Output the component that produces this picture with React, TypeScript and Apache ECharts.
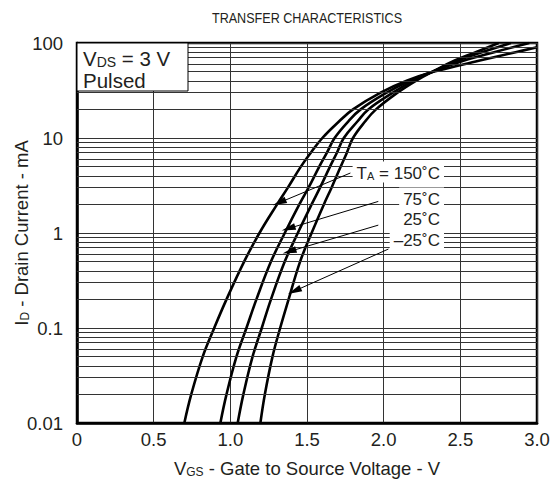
import React, { useEffect, useRef } from 'react';
import * as echarts from 'echarts';

// Temperatures (°C) of the four curves
const tempNames = ['150', '75', '25', '–25'];

// [VGS (V), ID (mA)]
const curve150 = [
  [0.70, 0.01], [0.745, 0.02], [0.82, 0.05], [0.895, 0.1], [0.975, 0.2], [1.09, 0.5],
  [1.19, 1], [1.305, 2], [1.375, 3], [1.46, 5], [1.525, 7], [1.60, 10], [1.71, 15],
  [1.80, 20], [1.98, 30], [2.15, 40], [2.33, 50], [2.62, 65], [2.86, 80], [3.0, 90],
];
const curve75 = [
  [0.935, 0.01], [0.975, 0.02], [1.04, 0.05], [1.105, 0.1], [1.17, 0.2], [1.265, 0.5],
  [1.355, 1], [1.45, 2], [1.51, 3], [1.58, 5], [1.63, 7], [1.68, 10], [1.77, 15],
  [1.85, 20], [2.02, 30], [2.17, 40], [2.32, 50], [2.52, 65], [2.72, 80], [2.95, 100],
];
const curve25 = [
  [1.048, 0.01], [1.085, 0.02], [1.145, 0.05], [1.205, 0.1], [1.265, 0.2], [1.355, 0.5],
  [1.44, 1], [1.53, 2], [1.585, 3], [1.65, 5], [1.695, 7], [1.74, 10], [1.83, 15],
  [1.90, 20], [2.06, 30], [2.19, 40], [2.32, 50], [2.48, 65], [2.64, 80], [2.83, 100],
];
const curveM25 = [
  [1.196, 0.01], [1.225, 0.02], [1.275, 0.05], [1.325, 0.1], [1.38, 0.2], [1.455, 0.5],
  [1.53, 1], [1.61, 2], [1.66, 3], [1.72, 5], [1.76, 7], [1.80, 10], [1.88, 15],
  [1.95, 20], [2.09, 30], [2.21, 40], [2.32, 50], [2.46, 65], [2.60, 80], [2.75, 100],
];

const xTickLabels = ['0', '0.5', '1.0', '1.5', '2.0', '2.5', '3.0'];
const yTickLabels = ['0.01', '0.1', '1', '10', '100'];
const decades = [0.01, 0.1, 1, 10];
const minorMultipliers = [2, 3, 4, 5, 6, 7, 8, 9];

// Annotation arrows: [from, to] in data coordinates
const arrowLines = [
  [[1.783, 4.28], [1.32, 2.09]],
  [[1.965, 2.15], [1.379, 1.115]],
  [[1.965, 1.21], [1.385, 0.639]],
  [[2.031, 0.678], [1.418, 0.245]],
];

const FONT = 'Liberation Sans, Arial, Helvetica, sans-serif';
const TXT = '#231f20';

export default function App() {
  const ref = useRef<HTMLDivElement>(null);

  useEffect(() => {
    document.body.style.margin = '0';
    const chart = echarts.init(ref.current!, null, { renderer: 'svg' });

    const rich = (size: number) => ({
      a: { fontSize: size, fontFamily: FONT, color: TXT, lineHeight: size + 2, verticalAlign: 'bottom' },
      s: { fontSize: Math.round(size * 0.66), fontFamily: FONT, color: TXT, lineHeight: size, verticalAlign: 'bottom' },
    });

    const minorValues: number[] = [];
    decades.forEach((d) => minorMultipliers.forEach((m) => minorValues.push(m * d)));

    const curveSeries = [curve150, curve75, curve25, curveM25].map((data, i) => ({
      name: tempNames[i],
      type: 'line',
      data,
      smooth: 0.4,
      symbol: 'none',
      z: 3,
      lineStyle: { color: '#000', width: 2.6 },
    }));

    const labelText = [
      '{a|T}{s|A}{a| = ' + tempNames[0] + '˚C}',
      '{a|' + tempNames[1] + '˚C}',
      '{a|' + tempNames[2] + '˚C}',
      '{a|' + tempNames[3] + '˚C}',
    ];
    const labelY = [172, 198, 218, 239];

    const option: any = {
      animation: false,
      grid: {
        left: 77, right: 18, top: 43, bottom: 64,
        show: true, borderColor: '#000', borderWidth: 2.5,
        containLabel: false, outerBoundsMode: 'none',
      },
      xAxis: {
        type: 'value',
        min: 0,
        max: 3,
        interval: 0.5,
        axisLine: { show: true, lineStyle: { color: '#000', width: 2.5 } },
        axisTick: { show: false },
        axisLabel: {
          margin: 7,
          fontSize: 18.5,
          fontFamily: FONT,
          color: TXT,
          formatter: (v: number) => xTickLabels[Math.round(v / 0.5)] ?? '',
        },
        splitLine: { show: true, lineStyle: { color: '#333', width: 1 } },
        name: '{a|V}{s|GS}{a| - Gate to Source Voltage - V}',
        nameLocation: 'middle',
        nameGap: 34,
        nameMoveOverlap: false,
        nameTextStyle: { fontSize: 18.5, fontFamily: FONT, color: TXT, rich: rich(18.5) },
      },
      yAxis: {
        type: 'log',
        logBase: 10,
        min: 0.01,
        max: 100,
        axisLine: { show: true, lineStyle: { color: '#000', width: 2.5 } },
        axisTick: { show: false },
        axisLabel: {
          margin: 14,
          fontSize: 18.5,
          fontFamily: FONT,
          color: TXT,
          formatter: (v: number) => yTickLabels[Math.round(Math.log10(v)) + 2] ?? '',
        },
        splitLine: { show: true, lineStyle: { color: '#333', width: 1 } },
        name: '{a|I}{s|D}{a| - Drain Current - mA}',
        nameLocation: 'middle',
        nameRotate: 90,
        nameGap: 46,
        nameMoveOverlap: false,
        nameTextStyle: { fontSize: 18.5, fontFamily: FONT, color: TXT, rich: rich(18.5) },
      },
      series: [
        {
          type: 'line',
          data: [],
          z: 1,
          silent: true,
          markLine: {
            silent: true,
            symbol: ['none', 'none'],
            label: { show: false },
            lineStyle: { color: '#333', width: 1, type: 'solid' },
            data: minorValues.map((v) => ({ yAxis: v })),
          },
        },
        ...curveSeries,
        {
          type: 'line',
          data: [],
          z: 4,
          silent: true,
          markLine: {
            silent: true,
            symbol: ['none', 'triangle'],
            symbolSize: [7, 14],
            label: { show: false },
            lineStyle: { color: '#000', width: 1, type: 'solid' },
            data: arrowLines.map(([a, b]) => [{ coord: a }, { coord: b }]),
          },
        },
      ],
      graphic: [
        {
          type: 'text',
          x: 307,
          y: 18,
          z: 60,
          scaleX: 0.9,
          style: {
            text: 'TRANSFER CHARACTERISTICS',
            fontSize: 14,
            fontFamily: FONT,
            fill: TXT,
            align: 'center',
            verticalAlign: 'middle',
            textAlign: 'center',
            textVerticalAlign: 'middle',
          },
        },
        {
          type: 'rect',
          z: 50,
          shape: { x: 77, y: 43, width: 111, height: 48 },
          style: { fill: '#fff', stroke: '#000', lineWidth: 1 },
        },
        {
          type: 'text',
          x: 83,
          y: 46,
          z: 51,
          style: {
            text: '{a|V}{s|DS}{a| = 3 V}\n{a|Pulsed}',
            rich: rich(20.5),
            fill: TXT,
          },
        },
        ...labelText.map((t, i) => ({
          type: 'text',
          x: 444,
          y: labelY[i],
          z: 60,
          style: {
            text: t,
            rich: rich(17),
            fill: TXT,
            align: 'right',
            verticalAlign: 'middle',
            textAlign: 'right',
            textVerticalAlign: 'middle',
            backgroundColor: '#fff',
            padding: [1, 4, 1, 4],
          },
        })),
      ],
    };

    chart.setOption(option);
    return () => chart.dispose();
  }, []);

  return <div ref={ref} style={{ width: 555, height: 487 }} />;
}
